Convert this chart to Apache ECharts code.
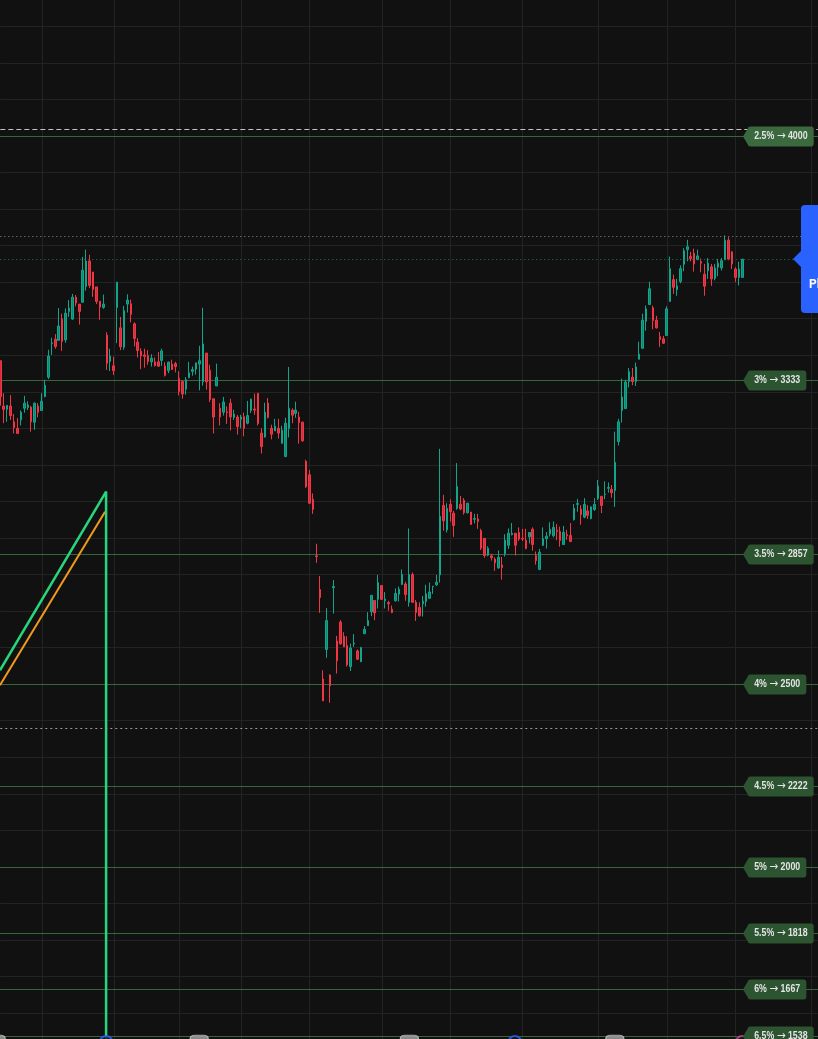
<!DOCTYPE html>
<html>
<head>
<meta charset="utf-8">
<script src="https://cdn.jsdelivr.net/npm/echarts@6/dist/echarts.min.js"></script>
<style>
  html, body { margin: 0; padding: 0; background: #111111; }
  #chart { width: 818px; height: 1039px; }
</style>
</head>
<body>
<div id="chart"></div>
<script>
// bar by bar prices (index 0 = leftmost bar)
const opens = [3385,3261,3252,3261,3218,3200,3223,3255,3257,3258,3217,3261,3249,3287,3340,3432,3444,3441,3499,3442,
  3520,3499,3559,3540,3545,3588,3658,3628,3587,3548,3531,3455,3383,3371,3531,3475,3422,3540,3541,3486,
  3436,3411,3401,3399,3382,3382,3382,3386,3370,3358,3376,3377,3337,3328,3307,3339,3356,3362,3376,3328,
  3406,3359,3281,3316,3255,3244,3245,3269,3230,3231,3225,3232,3214,3249,3253,3296,3187,3176,3269,3200,
  3193,3200,3159,3123,3200,3250,3241,3231,3217,3110,3073,3006,2851,2759,2514,2595,2525,2764,2618,2670,
  2631,2606,2548,2610,2591,2561,2638,2660,2698,2729,2732,2770,2728,2723,2705,2728,2746,2773,2774,2724,
  2800,2724,2710,2720,2726,2735,2767,2772,2799,2989,2922,2992,2968,2981,2992,3003,2969,2971,2951,2952,
  2920,2899,2853,2851,2842,2818,2826,2857,2880,2909,2913,2915,2899,2894,2903,2924,2852,2814,2880,2898,
  2911,2906,2921,2918,2882,2909,2907,2950,2992,2979,2957,2974,2953,2978,3008,3014,3019,3036,3033,3030,
  3164,3249,3254,3328,3340,3328,3389,3419,3493,3539,3530,3496,3451,3445,3454,3547,3607,3580,3602,3649,
  3689,3670,3679,3662,3656,3622,3631,3642,3610,3641,3639,3661,3715,3683,3636,3613,3613];
const closes = [3287,3252,3263,3235,3202,3186,3244,3269,3264,3218,3269,3244,3274,3318,3398,3434,3424,3480,3438,3515,
  3529,3559,3543,3520,3633,3658,3591,3580,3547,3532,3540,3378,3398,3358,3600,3423,3522,3551,3512,3446,
  3413,3398,3397,3383,3392,3372,3370,3412,3345,3381,3361,3369,3301,3294,3333,3352,3361,3379,3385,3431,
  3327,3279,3231,3340,3231,3272,3243,3231,3239,3205,3231,3200,3235,3280,3250,3213,3150,3244,3230,3184,
  3206,3187,3195,3214,3255,3236,3250,3216,3166,3040,2995,2978,2849,2737,2454,2674,2495,2767,2564,2610,
  2602,2553,2599,2612,2568,2600,2650,2674,2743,2695,2778,2732,2733,2720,2696,2748,2760,2800,2745,2800,
  2724,2696,2687,2727,2747,2752,2768,2779,2959,2947,2981,2972,2934,3041,2979,2969,2995,2937,2953,2945,
  2872,2852,2872,2846,2832,2847,2819,2894,2913,2913,2880,2897,2897,2871,2915,2882,2838,2861,2898,2905,
  2924,2929,2918,2893,2915,2906,2890,2981,2994,2964,2992,2962,2985,2992,3042,2989,3020,3038,3024,3107,
  3218,3286,3327,3355,3328,3368,3403,3496,3527,3582,3495,3475,3443,3433,3527,3637,3586,3590,3637,3686,
  3697,3665,3650,3672,3652,3589,3652,3609,3639,3652,3659,3715,3663,3650,3613,3636,3663];
const lows = [3262,3214,3218,3223,3186,3185,3208,3243,3250,3191,3196,3230,3249,3285,3335,3401,3418,3440,3412,3434,
  3505,3497,3534,3484,3545,3577,3584,3560,3540,3497,3527,3360,3357,3346,3433,3414,3415,3517,3490,3424,
  3394,3362,3366,3374,3369,3369,3369,3371,3342,3351,3360,3353,3290,3281,3292,3337,3344,3347,3304,3317,
  3306,3272,3186,3316,3208,3235,3212,3194,3223,3183,3200,3178,3211,3242,3237,3208,3131,3175,3227,3170,
  3193,3172,3158,3121,3175,3214,3229,3158,3163,3037,2993,2966,2832,2695,2454,2572,2449,2693,2529,2609,
  2602,2548,2536,2602,2566,2561,2638,2660,2686,2675,2707,2730,2707,2701,2694,2726,2726,2771,2728,2712,
  2723,2673,2685,2685,2712,2733,2747,2769,2778,2920,2915,2945,2903,2977,2976,2964,2967,2936,2940,2925,
  2867,2846,2850,2838,2810,2816,2786,2849,2870,2907,2852,2892,2892,2869,2885,2865,2827,2812,2878,2871,
  2904,2902,2894,2876,2882,2895,2890,2948,2972,2936,2954,2952,2951,2974,3004,2968,3006,3024,3010,2985,
  3153,3216,3254,3312,3318,3316,3389,3419,3467,3539,3471,3473,3423,3431,3454,3547,3568,3563,3597,3630,
  3657,3657,3629,3660,3627,3563,3609,3590,3605,3616,3632,3661,3660,3636,3600,3591,3613];
const highs = [3385,3296,3263,3291,3239,3228,3249,3289,3274,3261,3271,3269,3296,3333,3415,3448,3458,3529,3514,3528,
  3551,3568,3565,3540,3669,3689,3675,3628,3587,3548,3566,3463,3418,3396,3600,3505,3535,3567,3552,3490,
  3447,3419,3418,3414,3403,3394,3409,3418,3381,3383,3388,3382,3356,3331,3340,3382,3369,3380,3426,3530,
  3406,3374,3281,3377,3269,3286,3260,3281,3251,3237,3237,3243,3275,3281,3295,3296,3200,3270,3283,3210,
  3226,3226,3207,3229,3368,3255,3273,3245,3218,3114,3086,3022,2884,2796,2538,2708,2527,2785,2632,2675,
  2642,2631,2611,2637,2595,2602,2659,2697,2743,2729,2799,2770,2752,2728,2715,2762,2767,2814,2780,2926,
  2806,2730,2724,2741,2772,2778,2768,2799,3144,3018,2995,3006,2974,3105,3015,3009,2995,2971,2966,2966,
  2925,2899,2877,2857,2847,2866,2848,2910,2926,2941,2913,2929,2925,2925,2916,2929,2863,2870,2929,2916,
  2943,2945,2938,2931,2933,2922,2941,2993,3007,2990,3009,2990,2987,3009,3059,3014,3055,3052,3045,3191,
  3226,3336,3333,3365,3365,3380,3437,3514,3536,3601,3536,3508,3464,3453,3534,3670,3621,3609,3646,3693,
  3716,3683,3692,3689,3665,3650,3666,3650,3650,3664,3666,3728,3723,3685,3641,3656,3663];

const slotCount = 239;
const categories = Array.from({ length: slotCount }, (_, i) => String(i));

// yield-to-price levels on the right
const levelPrices = [4000, 3333, 2857, 2500, 2222, 2000, 1818, 1667, 1538];
const levelYields = ['2.5%', '3%', '3.5%', '4%', '4.5%', '5%', '5.5%', '6%', '6.5%'];

// other horizontal reference lines: dashed target, range high, last price, range low
const refPrices = [4018, 3727, 3663, 2379];

// bar index of the time separators
const timeGrid = [12, 33, 52, 70, 90, 111, 131, 152, 174, 194, 214, 236];

// drawn lines (bar index, price)
const greenPath = [[-0.1, 2538], [30.8, 3027], [30.8, 1500]];
const orangePath = [[-0.1, 2497], [30.5, 2972]];

// event markers on the bottom edge (bar index)
const flagBars = [-1.2, 57.9, 119.1, 178.9];
const blueEventBars = [30.8, 149.8];
const pinkEventBars = [216];

const candles = opens.map((o, i) => [o, closes[i], lows[i], highs[i]]);
const lastClose = closes[closes.length - 1];
const markerY = 1519;

const chart = echarts.init(document.getElementById('chart'), null, { renderer: 'canvas' });

const tagFont = "bold 10px 'Liberation Sans', 'Arimo', 'DejaVu Sans', sans-serif";

chart.setOption({
  backgroundColor: '#111111',
  animation: false,
  grid: { left: 0.3, right: 0.17, top: 26.4, bottom: 26, containLabel: false },
  xAxis: [
    {
      type: 'category', data: categories, boundaryGap: false,
      axisLine: { show: false }, axisTick: { show: false }, axisLabel: { show: false },
      splitLine: { show: false }
    },
    {
      type: 'value', min: 0, max: slotCount - 1, show: false,
      splitLine: { show: false }
    }
  ],
  yAxis: {
    type: 'value', min: 1600, max: 4300, interval: 100,
    axisLine: { show: false }, axisTick: { show: false }, axisLabel: { show: false },
    splitLine: { show: true, lineStyle: { color: '#232323', width: 1 } }
  },
  series: [
    {
      // time separators
      type: 'custom', xAxisIndex: 1, z: 0, silent: true,
      data: timeGrid.map(b => [b]),
      renderItem: function (params, api) {
        const x = Math.round(api.coord([api.value(0), 2000])[0]) + 0.5;
        return { type: 'line', shape: { x1: x, y1: 0, x2: x, y2: 1039 },
          style: { stroke: '#232323', lineWidth: 1 } };
      }
    },
    {
      // yield level lines
      type: 'custom', z: 1, silent: true,
      data: levelPrices.map(p => [0, p]),
      renderItem: function (params, api) {
        const y = Math.round(api.coord([0, api.value(1)])[1]) + 0.5;
        return { type: 'line', shape: { x1: 0, y1: y, x2: 818, y2: y },
          style: { stroke: '#35673a', lineWidth: 1 } };
      }
    },
    {
      type: 'candlestick',
      z: 3,
      barWidth: 2,
      data: candles,
      itemStyle: {
        color: '#0a8a74', color0: '#d22f3e',
        borderColor: '#12a58b', borderColor0: '#f23645', borderWidth: 1
      },
      markLine: {
        silent: true, symbol: ['none', 'none'], label: { show: false },
        data: [
          { yAxis: refPrices[0], lineStyle: { color: '#c4c4c4', type: [5, 3], width: 1 } },
          { yAxis: refPrices[1], lineStyle: { color: '#8c8c8c', type: [1, 3], width: 1 } },
          { yAxis: refPrices[2], lineStyle: { color: '#1b7a66', type: [1, 3], width: 1 } },
          { yAxis: refPrices[3], lineStyle: { color: '#9a9a9a', type: [2, 3], width: 1 } }
        ]
      }
    },
    {
      type: 'line', xAxisIndex: 1, z: 4, silent: true, symbol: 'none', clip: false,
      data: orangePath,
      lineStyle: { color: '#f39a1e', width: 2 }
    },
    {
      type: 'line', xAxisIndex: 1, z: 4, silent: true, symbol: 'none', clip: false,
      data: greenPath,
      lineStyle: { color: '#27d67c', width: 2.5 }
    },
    {
      type: 'scatter', xAxisIndex: 1, z: 5, silent: true, clip: false,
      symbol: 'roundRect', symbolSize: [18, 12],
      data: flagBars.map(b => [b, markerY + 4]),
      itemStyle: { color: '#a9a9a9', borderColor: '#cfcfcf', borderWidth: 1 }
    },
    {
      type: 'scatter', xAxisIndex: 1, z: 5, silent: true, clip: false,
      symbol: 'circle', symbolSize: 13,
      data: blueEventBars.map(b => [b, markerY]),
      itemStyle: { color: '#111111', borderColor: '#2962ff', borderWidth: 2 }
    },
    {
      type: 'scatter', xAxisIndex: 1, z: 5, silent: true, clip: false,
      symbol: 'circle', symbolSize: 13,
      data: pinkEventBars.map(b => [b, markerY]),
      itemStyle: { color: '#111111', borderColor: '#c8479a', borderWidth: 2 }
    },
    {
      // yield level tags
      type: 'custom', z: 6, silent: true,
      data: levelPrices.map(p => [0, p]),
      renderItem: function (params, api) {
        const price = api.value(1);
        const y = Math.round(api.coord([0, price])[1]) + 0.5;
        const fill = params.dataIndex === 0 ? '#3a693d' : '#2c5430';
        return {
          type: 'group',
          children: [
            { type: 'polygon', shape: { points: [[743, y], [749, y - 10], [749, y + 10]] },
              style: { fill: fill } },
            { type: 'text', x: 748, y: y, scaleX: 0.88,
              style: {
                text: '{a|' + levelYields[params.dataIndex] + '} {b|→} {a|' + price + '}',
                fill: '#e4e4e4', font: tagFont,
                align: 'left', verticalAlign: 'middle',
                backgroundColor: fill, padding: [3, 7, 4, 7], borderRadius: 3,
                rich: {
                  a: { font: tagFont, fill: '#e4e4e4', lineHeight: 13 },
                  b: { font: "12px 'DejaVu Sans', sans-serif", fill: '#e4e4e4', lineHeight: 13 }
                }
              } }
          ]
        };
      }
    },
    {
      // last price badge
      type: 'custom', z: 7, silent: true,
      data: [[closes.length - 1, lastClose]],
      renderItem: function (params, api) {
        const y = Math.round(api.coord([api.value(0), api.value(1)])[1]);
        return {
          type: 'group',
          children: [
            { type: 'polygon', shape: { points: [[793, y], [802, y - 9], [802, y + 9]] },
              style: { fill: '#2962ff' } },
            { type: 'rect', shape: { x: 801, y: y - 54, width: 40, height: 108, r: 4 },
              style: { fill: '#2962ff' } },
            { type: 'text', x: 809, y: y + 26,
              style: { text: 'Plan', fill: '#ffffff', font: "bold 12px 'Roboto', 'DejaVu Sans', sans-serif",
                align: 'left', verticalAlign: 'middle' } }
          ]
        };
      }
    }
  ]
});
</script>
</body>
</html>
